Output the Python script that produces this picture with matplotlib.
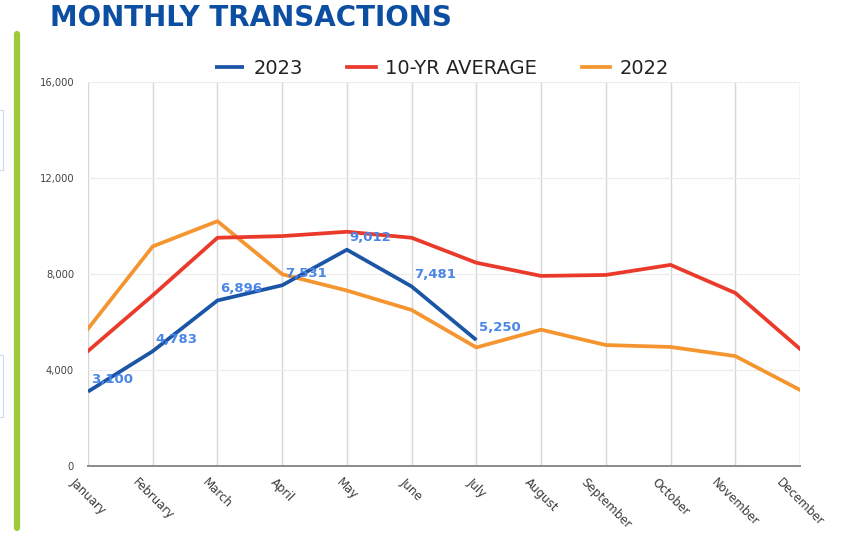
#!/usr/bin/env python3
from matplotlib import pyplot as plt
from matplotlib.lines import Line2D
from matplotlib.patches import Rectangle
from matplotlib import ticker

# data
months = ['January', 'February', 'March', 'April', 'May', 'June', 'July',
          'August', 'September', 'October', 'November', 'December']
y2023 = [3100, 4783, 6896, 7531, 9012, 7481, 5250]
labels2023 = ['3,100', '4,783', '6,896', '7,531', '9,012', '7,481', '5,250']
avg10 = [4790, 7110, 9510, 9580, 9760, 9510, 8470, 7920, 7960, 8380, 7210, 4880]
y2022 = [5720, 9150, 10200, 7990, 7310, 6500, 4940, 5680, 5040, 4960, 4580, 3170]
yticks = [0, 4000, 8000, 12000, 16000]

fig = plt.figure(figsize=(8.49, 5.35), dpi=100)
ax = fig.add_axes([88/849, 1 - 466/535, (800 - 88)/849, (466 - 82)/535])

x = list(range(len(months)))
ax.plot(x[:len(y2023)], y2023, c='#1a55a6', lw=2.7, label='2023', zorder=5, solid_capstyle='butt')
ax.plot(x, avg10, c='#ea3a2c', lw=2.7, label='10-YR AVERAGE', zorder=4)
ax.plot(x, y2022, c='#f4952f', lw=2.7, label='2022', zorder=3)

# value labels on the 2023 line
for xi, yi, t in zip(x, y2023, labels2023):
    ax.annotate(t, (xi, yi), xytext=(2, 4), textcoords='offset points',
                ha='left', va='bottom', color='#4a86e8', fontsize=9.5,
                fontweight='bold', zorder=6)

ax.set_xlim(0, len(months) - 1)
ax.set_ylim(0, 16000)
ax.set_xticks(x)
ax.set_xticklabels(months, rotation=-45, ha='center', va='top', fontsize=8.5, color='#3a3a3a')
ax.set_yticks(yticks)
ax.yaxis.set_major_formatter(ticker.FuncFormatter(lambda v, p: f'{int(v):,}'))
ax.tick_params(axis='y', labelsize=7.2, colors='#444444', length=0, pad=10)
ax.tick_params(axis='x', length=0, pad=7)
ax.grid(axis='x', color='#d6d6d6', lw=1)
ax.grid(axis='y', color='#ececec', lw=0.8)
for s in ['top', 'right', 'left']:
    ax.spines[s].set_visible(False)
ax.spines['bottom'].set_color('#8a8a8a')
ax.spines['bottom'].set_linewidth(1.4)

fig.legend(loc='center', bbox_to_anchor=(0.521, 1 - 68/535), ncol=3, frameon=False,
           fontsize=14, handlelength=1.45, handletextpad=0.5, columnspacing=2.3,
           labelcolor='#222222')

fig.text(50/849, 1 - 18/535, 'MONTHLY TRANSACTIONS', fontsize=20, fontweight='bold',
         color='#0b4ea2', ha='left', va='center')

# green side bar and faint page edges
fig.add_artist(Line2D([17/849, 17/849], [1 - 34/535, 1 - 528/535], color='#9dcb3c',
                      lw=4.5, solid_capstyle='round'))
fig.add_artist(Rectangle((-0.01, 1 - 170/535), 0.013, 60/535, fill=False,
                         edgecolor='#c9dcf0', lw=0.8))
fig.add_artist(Rectangle((-0.01, 1 - 417/535), 0.013, 62/535, fill=False,
                         edgecolor='#c9dcf0', lw=0.8))

plt.savefig('out.png', dpi=100)
